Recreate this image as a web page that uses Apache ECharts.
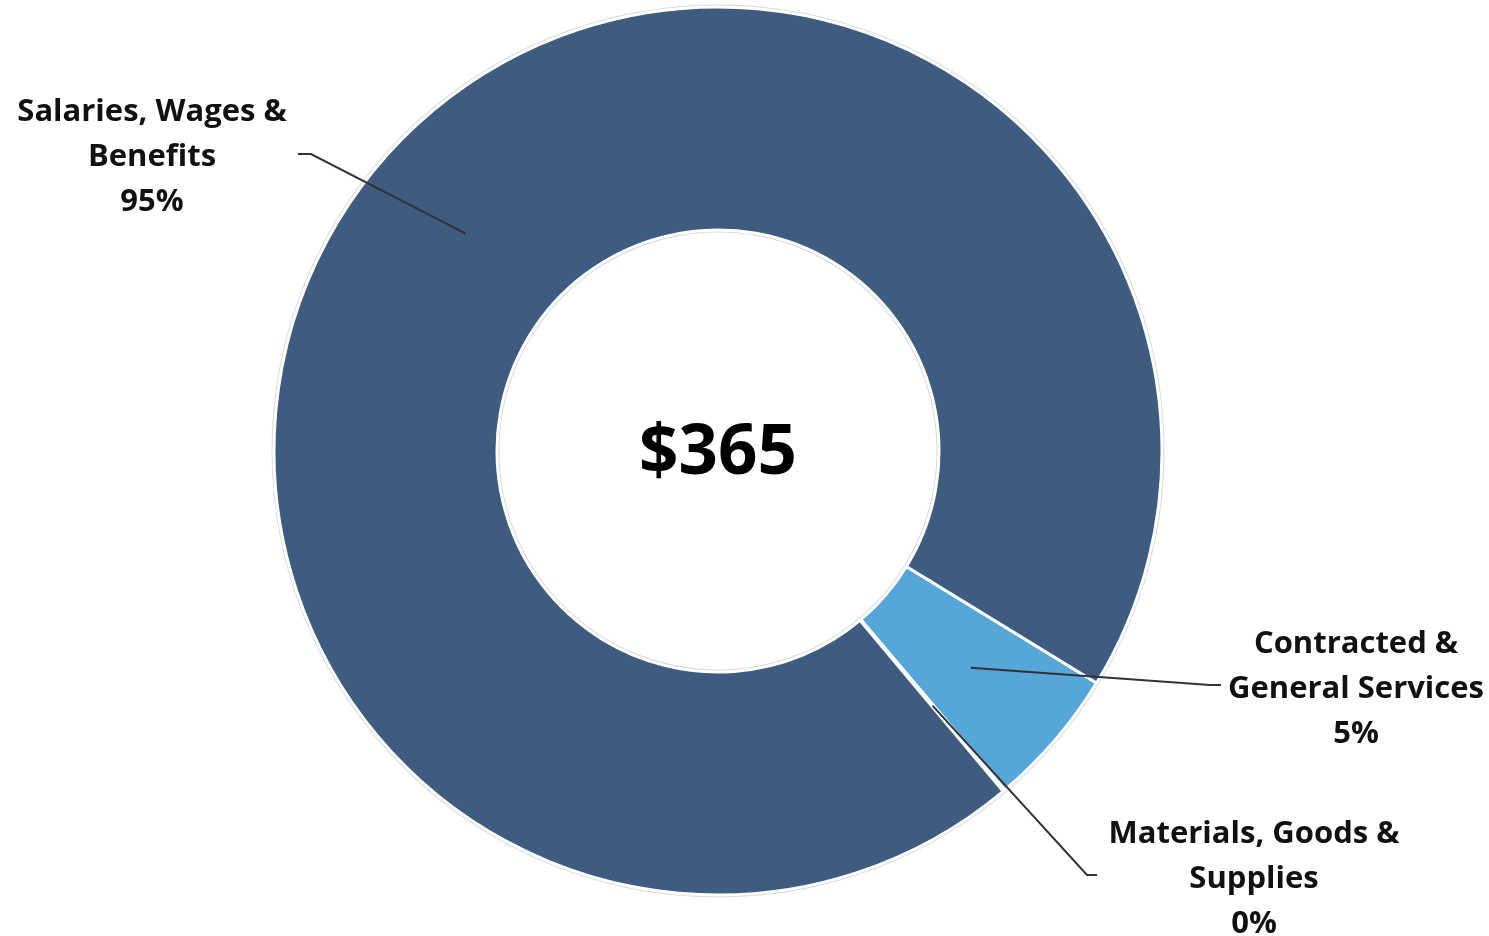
<!DOCTYPE html>
<html>
<head>
<meta charset="utf-8">
<script src="https://cdn.jsdelivr.net/npm/echarts@6/dist/echarts.min.js"></script>
<style>
  html, body { margin: 0; padding: 0; background: #fff; }
  #chart { width: 1489px; height: 936px; }
</style>
</head>
<body>
<div id="chart"></div>
<script>
// ---- data ----
const categories = ['Contracted &\nGeneral Services', 'Materials, Goods &\nSupplies', 'Salaries, Wages &\nBenefits'];
const values = [18.5, 0.3, 346.2];
const colors = ['#57A6D9', '#8FA9C4', '#3D5C7F'];

// ---- layout ----
const CX = 718, CY = 451;
const R_IN = 221, R_OUT = 444;
const START = -31.5;
const labelAnchor = [[1356, 689], [1254, 879], [152, 157]];
const leaderElbow = [[1210, 685], [1087, 875], [311, 154]];
const leaderEnd = [[1221, 685], [1097, 875], [298, 154]];

const total = values.reduce((a, b) => a + b, 0);

// mid-angle leader start points derived from data
const starts = [];
let cum = 0;
values.forEach(v => {
  const a0 = START - cum / total * 360;
  const a1 = a0 - v / total * 360;
  const mid = (a0 + a1) / 2 * Math.PI / 180;
  const rm = (R_IN + R_OUT) / 2 + 0.5;
  starts.push([CX + rm * Math.cos(mid), CY - rm * Math.sin(mid)]);
  cum += v;
});

const chart = echarts.init(document.getElementById('chart'), null, { renderer: 'canvas' });

const fontFamily = '"Open Sans", "Noto Sans", sans-serif';

chart.setOption({
  backgroundColor: '#ffffff',
  animation: false,
  graphic: [{
    type: 'text',
    x: CX, y: CY + 3,
    style: {
      text: '$' + Math.round(total),
      fontFamily: fontFamily,
      fontWeight: 'bold',
      fontSize: 69,
      fill: '#000',
      textAlign: 'center',
      textVerticalAlign: 'middle'
    },
    z: 100
  }],
  series: [
    {
      type: 'pie',
      silent: true,
      center: [CX, CY],
      radius: [R_OUT + 1, R_OUT + 2.5],
      label: { show: false },
      labelLine: { show: false },
      itemStyle: { color: '#d9d9d9' },
      data: [1],
      z: 1
    },
    {
      type: 'pie',
      silent: true,
      center: [CX, CY],
      radius: [R_IN - 2.5, R_IN - 1],
      label: { show: false },
      labelLine: { show: false },
      itemStyle: { color: '#d9d9d9' },
      data: [1],
      z: 1
    },
    {
      // coloured ring
      type: 'pie',
      center: [CX, CY],
      radius: [R_IN, R_OUT],
      startAngle: START,
      clockwise: true,
      minAngle: 0,
      z: 2,
      itemStyle: { borderColor: '#ffffff', borderWidth: 3 },
      label: { show: false },
      labelLine: { show: false },
      data: values.map((v, i) => ({
        value: v,
        name: categories[i],
        itemStyle: { color: colors[i] }
      }))
    },
    {
      // transparent overlay carrying labels + leader lines above the ring
      type: 'pie',
      silent: true,
      center: [CX, CY],
      radius: [R_IN, R_OUT],
      startAngle: START,
      clockwise: true,
      avoidLabelOverlap: false,
      minAngle: 0,
      z: 5,
      itemStyle: { color: 'rgba(0,0,0,0)', borderWidth: 0 },
      label: {
        show: true,
        position: 'outside',
        fontFamily: fontFamily,
        fontWeight: 'bold',
        fontSize: 31,
        lineHeight: 45,
        color: '#111',
        align: 'center',
        formatter: p => categories[p.dataIndex] + '\n' + Math.round(values[p.dataIndex] / total * 100) + '%'
      },
      labelLine: {
        show: true,
        length: 20,
        length2: 20,
        lineStyle: { color: '#333333', width: 2 }
      },
      labelLayout: function (params) {
        const i = params.dataIndex;
        return {
          x: labelAnchor[i][0],
          y: labelAnchor[i][1],
          align: 'center',
          verticalAlign: 'middle',
          labelLinePoints: [starts[i], leaderElbow[i], leaderEnd[i]]
        };
      },
      data: values.map((v, i) => ({ value: v, name: categories[i] }))
    }
  ]
});
</script>
</body>
</html>
